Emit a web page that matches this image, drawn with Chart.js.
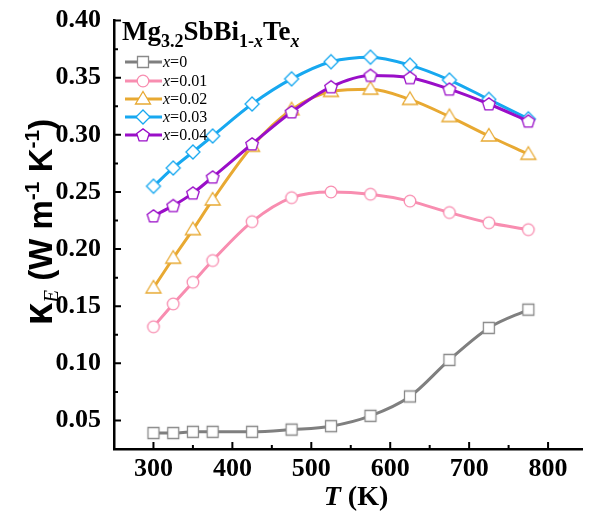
<!DOCTYPE html>
<html>
<head>
<meta charset="utf-8">
<script src="https://cdn.jsdelivr.net/npm/chart.js@4"></script>
<style>
  body { margin: 0; background: #fff; }
  #wrap { width: 592px; height: 516px; }
</style>
</head>
<body>
<div id="wrap"><canvas id="kappaChart"></canvas></div>
<script>
// temperatures (K) and electronic thermal conductivity for each x
const temps = [300, 325, 350, 375, 425, 475, 525, 575, 625, 675, 725, 775]
const kE_x0    = [0.039, 0.039, 0.040, 0.040, 0.040, 0.042, 0.045, 0.054, 0.071, 0.103, 0.131, 0.147]
const kE_x001  = [0.132, 0.152, 0.171, 0.190, 0.224, 0.245, 0.250, 0.248, 0.242, 0.232, 0.223, 0.217]
const kE_x002  = [0.166, 0.192, 0.217, 0.243, 0.290, 0.322, 0.338, 0.340, 0.331, 0.316, 0.299, 0.283]
const kE_x003  = [0.255, 0.271, 0.285, 0.299, 0.327, 0.349, 0.364, 0.368, 0.361, 0.348, 0.331, 0.314]
const kE_x004  = [0.229, 0.238, 0.249, 0.263, 0.292, 0.320, 0.342, 0.352, 0.350, 0.340, 0.327, 0.312]

const seriesLabels = ['0', '0.01', '0.02', '0.03', '0.04']
const xTicks = [300, 400, 500, 600, 700, 800]
const xMinor = [350, 450, 550, 650, 750]
const yTicks = [0.05, 0.10, 0.15, 0.20, 0.25, 0.30, 0.35, 0.40]
const yMinor = [0.075, 0.125, 0.175, 0.225, 0.275, 0.325, 0.375]

const lineColors = ['#7f7f7f', '#f88db0', '#e8a932', '#17a8f0', '#9a0ec8']
const markColors = ['#8a8a8a', '#f88db0', '#e8a932', '#17a8f0', '#9a0ec8']
const shapes = ['square', 'circle', 'triangle', 'diamond', 'pentagon']

// hollow marker images (Chart.js has no pentagon, so all are drawn here)
function makeMarker(shape, color) {
    let c = document.createElement('canvas')
    c.width = 20; c.height = 20
    let g = c.getContext('2d')
    g.beginPath()
    if (shape == 'square') {
        g.rect(4.5, 4.5, 11, 11)
    } else if (shape == 'circle') {
        g.arc(10, 10, 5.8, 0, Math.PI * 2)
    } else if (shape == 'triangle') {
        g.moveTo(10, 2.5); g.lineTo(17.5, 15); g.lineTo(2.5, 15); g.closePath()
    } else if (shape == 'diamond') {
        g.moveTo(10, 3); g.lineTo(17, 10); g.lineTo(10, 17); g.lineTo(3, 10); g.closePath()
    } else {
        for (let i = 0; i < 5; i++) {
            let a = -Math.PI / 2 + i * 2 * Math.PI / 5
            let px = 10 + 6.6 * Math.cos(a), py = 10.5 + 6.6 * Math.sin(a)
            if (i == 0) g.moveTo(px, py); else g.lineTo(px, py)
        }
        g.closePath()
    }
    g.fillStyle = '#fff'
    g.fill()
    g.lineWidth = 1.3
    g.strokeStyle = color
    g.stroke()
    return c
}
const markers = shapes.map((s, i) => makeMarker(s, markColors[i]))

const allData = [kE_x0, kE_x001, kE_x002, kE_x003, kE_x004]
const datasets = allData.map((vals, i) => ({
    label: 'x=' + seriesLabels[i],
    data: temps.map((t, j) => ({ x: t, y: vals[j] })),
    borderColor: lineColors[i],
    borderWidth: 3,
    cubicInterpolationMode: 'monotone',
    pointStyle: markers[i],
    pointRadius: 7,
    order: 4 - i
}))

// inward ticks, axis titles and the in-plot legend
const decorations = {
    id: 'decorations',
    afterDraw(chart) {
        const ctx = chart.ctx
        const xs = chart.scales.x, ys = chart.scales.y
        const area = chart.chartArea
        ctx.save()
        ctx.strokeStyle = '#000'
        ctx.lineWidth = 2
        ctx.beginPath()
        xTicks.forEach(v => { let p = xs.getPixelForValue(v); ctx.moveTo(p, area.bottom); ctx.lineTo(p, area.bottom - 7) })
        xMinor.forEach(v => { let p = xs.getPixelForValue(v); ctx.moveTo(p, area.bottom); ctx.lineTo(p, area.bottom - 4) })
        yTicks.forEach(v => { let p = ys.getPixelForValue(v); ctx.moveTo(area.left, p); ctx.lineTo(area.left + 7, p) })
        yMinor.forEach(v => { let p = ys.getPixelForValue(v); ctx.moveTo(area.left, p); ctx.lineTo(area.left + 4, p) })
        ctx.stroke()

        ctx.fillStyle = '#000'
        ctx.textBaseline = 'alphabetic'

        // x title: T (K)
        let partsX = [['bold italic 28px "Liberation Serif"', 'T', 0], ['bold 28px "Liberation Serif"', ' (K)', 0]]
        drawParts(ctx, partsX, 356, 505)

        // y title: κE (W m-1 K-1)
        ctx.save()
        ctx.translate(40, 222)
        ctx.rotate(-Math.PI / 2)
        let sans = '"Liberation Sans"'
        let partsY = [
            ['bold 40px ' + sans, 'κ', 0],
            ['italic 21px "Liberation Serif"', 'E', 6],
            ['bold 33px ' + sans, ' (W m', 0],
            ['bold 21px ' + sans, '-1', -13],
            ['bold 33px ' + sans, ' K', 0],
            ['bold 21px ' + sans, '-1', -13],
            ['bold 33px ' + sans, ')', 0]
        ]
        drawParts(ctx, partsY, 0, 12)
        ctx.restore()

        // legend title: Mg3.2SbBi1-xTex
        let serifB = 'bold 27px "Liberation Serif"', subB = 'bold 18px "Liberation Serif"', subI = 'bold italic 18px "Liberation Serif"'
        let partsT = [[serifB, 'Mg', 0], [subB, '3.2', 7], [serifB, 'SbBi', 0], [subB, '1-', 7], [subI, 'x', 7], [serifB, 'Te', 0], [subI, 'x', 7]]
        drawParts(ctx, partsT, null, 40, 122)

        // legend entries
        const rowY = [62, 81, 99, 117, 135]
        seriesLabels.forEach((lab, i) => {
            let y = rowY[i]
            ctx.strokeStyle = lineColors[i]
            ctx.lineWidth = 3
            ctx.beginPath(); ctx.moveTo(125, y); ctx.lineTo(162, y); ctx.stroke()
            ctx.drawImage(markers[i], 143 - 10, y - 10)
            ctx.fillStyle = '#000'
            drawParts(ctx, [['italic 16px "Liberation Serif"', 'x', 0], ['16px "Liberation Serif"', '=' + lab, 0]], null, y + 5, 163)
        })
        ctx.restore()
    }
}

// draws mixed-font text pieces; centered on cx, or left aligned at lx
function drawParts(ctx, parts, cx, baseY, lx) {
    ctx.textAlign = 'left'
    let widths = parts.map(p => { ctx.font = p[0]; return ctx.measureText(p[1]).width })
    let total = widths.reduce((a, b) => a + b, 0)
    let x = cx != null ? cx - total / 2 : lx
    parts.forEach((p, i) => {
        ctx.font = p[0]
        ctx.fillText(p[1], x, baseY + p[2])
        x += widths[i]
    })
}

const tickFont = { family: '"Liberation Serif"', size: 26, weight: 'bold' }

new Chart(document.getElementById('kappaChart'), {
    type: 'line',
    data: { datasets: datasets },
    options: {
        responsive: true,
        maintainAspectRatio: false,
        animation: false,
        layout: { padding: { top: 18, right: 0, left: 0, bottom: 0 } },
        plugins: { legend: { display: false }, tooltip: { enabled: false } },
        scales: {
            x: {
                type: 'linear',
                min: 250,
                max: 843,
                afterBuildTicks: s => { s.ticks = xTicks.map(v => ({ value: v })) },
                afterFit: s => { s.height = 67 },
                grid: { display: false },
                border: { display: true, color: '#000', width: 2.5 },
                ticks: { color: '#000', font: tickFont, padding: -3, maxRotation: 0 }
            },
            y: {
                min: 0.025,
                max: 0.40,
                afterBuildTicks: s => { s.ticks = yTicks.map(v => ({ value: v })) },
                afterFit: s => { s.width = 114 },
                grid: { display: false },
                border: { display: true, color: '#000', width: 2.5 },
                ticks: { color: '#000', font: tickFont, padding: 5, callback: v => v.toFixed(2) }
            }
        }
    },
    plugins: [decorations]
})
</script>
</body>
</html>
